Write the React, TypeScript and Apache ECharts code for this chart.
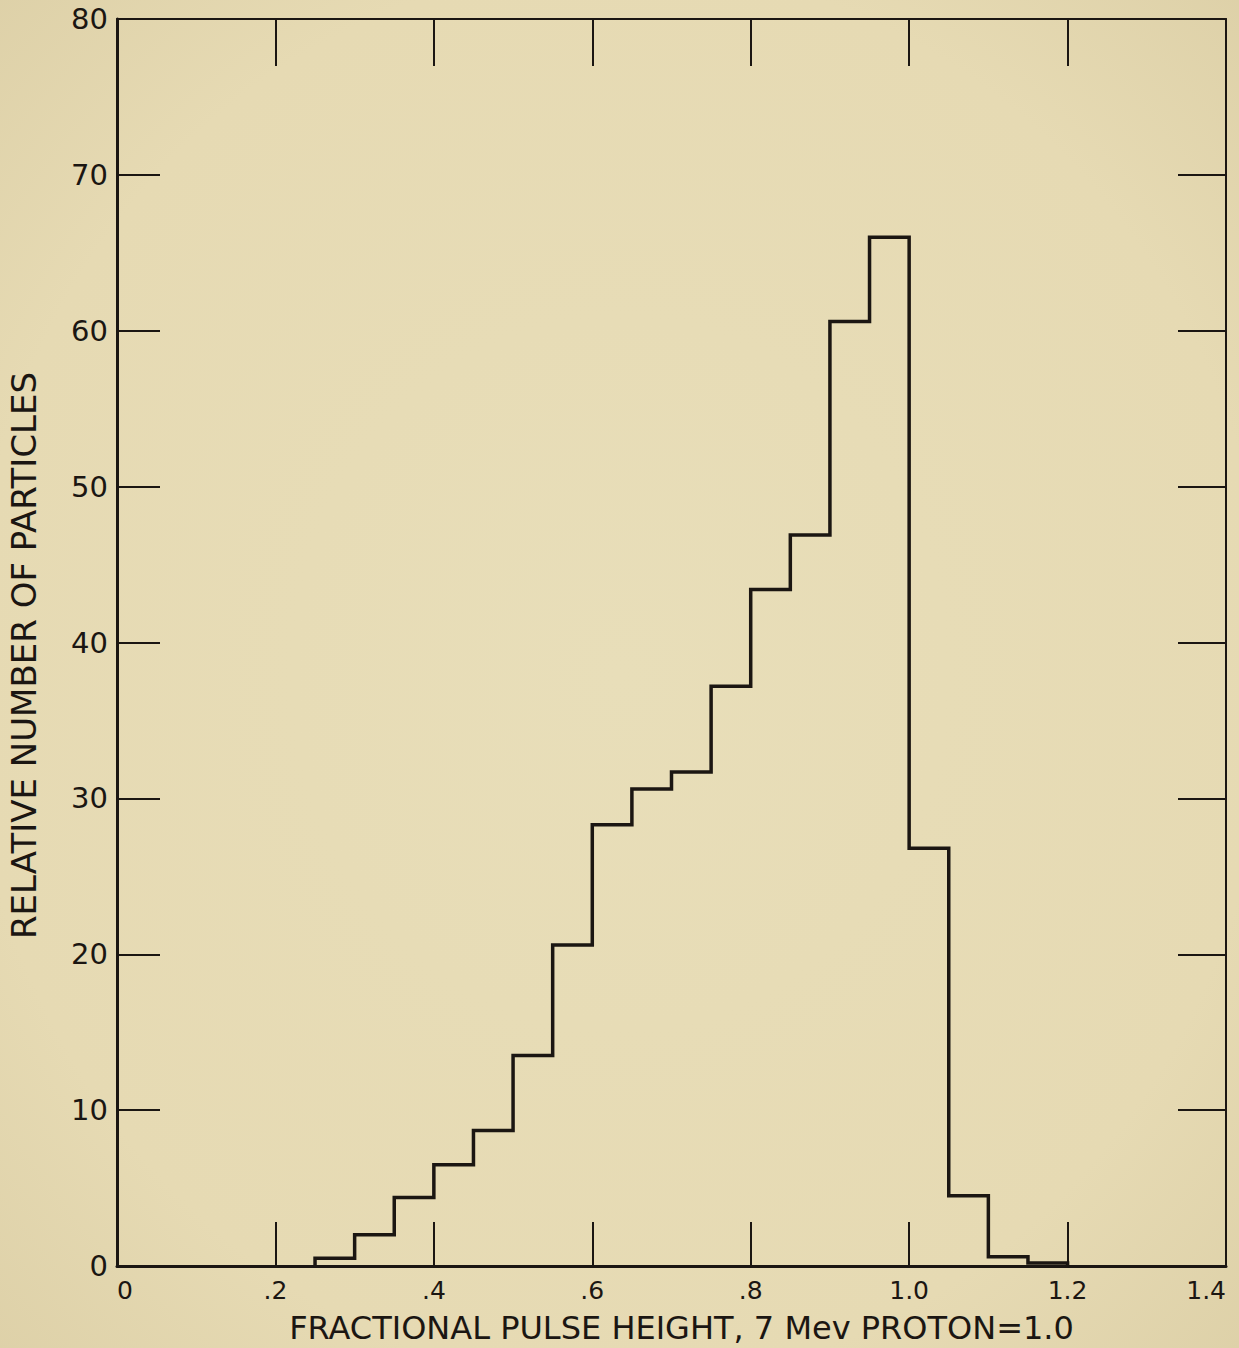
import React, { useEffect, useRef } from "react";
import * as echarts from "echarts";

const binStarts = [0.25, 0.3, 0.35, 0.4, 0.45, 0.5, 0.55, 0.6, 0.65, 0.7, 0.75, 0.8, 0.85, 0.9, 0.95, 1.0, 1.05, 1.1, 1.15];
const binWidth = 0.05;
const counts = [0.5, 2.0, 4.4, 6.5, 8.7, 13.5, 20.6, 28.3, 30.6, 31.7, 37.2, 43.4, 46.9, 60.6, 66.0, 26.8, 4.5, 0.6, 0.2];
const xTitle = "FRACTIONAL PULSE HEIGHT, 7 Mev PROTON=1.0";
const yTitle = "RELATIVE NUMBER OF PARTICLES";

const INK = "#1b1612";
const FONT = "DejaVu Sans";

function xLabel(v: number): string {
  if (v === 0) return "0";
  const s = v.toFixed(1);
  return s.startsWith("0") ? s.slice(1) : s;
}

export default function App() {
  const ref = useRef<HTMLDivElement>(null);
  useEffect(() => {
    if (!ref.current) return;
    const chart = echarts.init(ref.current, undefined, { renderer: "svg" });
    const pts: number[][] = [[binStarts[0], 0]];
    binStarts.forEach((s, i) => {
      const e = Math.round((s + binWidth) * 100) / 100;
      pts.push([s, counts[i]]);
      pts.push([e, counts[i]]);
    });
    const last = Math.round((binStarts[binStarts.length - 1] + binWidth) * 100) / 100;
    pts.push([last, 0]);

    chart.setOption({
      animation: false,
      backgroundColor: {
        type: "radial",
        x: 0.5,
        y: 0.5,
        r: 0.75,
        colorStops: [
          { offset: 0, color: "#e8deb9" },
          { offset: 0.7, color: "#e6dab3" },
          { offset: 1, color: "#dccfa6" },
        ],
      },
      grid: { left: 117, width: 1109, top: 19, height: 1247, outerBoundsMode: "none", containLabel: false },
      xAxis: [
        {
          type: "value",
          position: "bottom",
          min: 0,
          max: 1.4,
          interval: 0.2,
          splitLine: { show: false },
          axisLine: { show: true, onZero: false, lineStyle: { color: INK, width: 3 } },
          axisTick: { show: true, inside: true, length: 44, lineStyle: { color: INK, width: 2 } },
          axisLabel: {
            formatter: xLabel,
            color: INK,
            fontSize: 25,
            fontFamily: FONT,
            margin: 12,
            alignMinLabel: "left",
            alignMaxLabel: "right",
          },
          name: xTitle,
          nameLocation: "middle",
          nameGap: 46,
          nameTextStyle: { color: INK, fontSize: 32, fontFamily: FONT, padding: [0, 0, 0, 20], verticalAlign: "top" },
        },
        {
          type: "value",
          position: "top",
          min: 0,
          max: 1.4,
          interval: 0.2,
          splitLine: { show: false },
          axisLine: { show: true, onZero: false, lineStyle: { color: INK, width: 2 } },
          axisTick: { show: true, inside: true, length: 47, lineStyle: { color: INK, width: 2 } },
          axisLabel: { show: false },
        },
      ],
      yAxis: [
        {
          type: "value",
          position: "left",
          min: 0,
          max: 80,
          interval: 10,
          splitLine: { show: false },
          axisLine: { show: true, onZero: false, lineStyle: { color: INK, width: 3 } },
          axisTick: { show: true, inside: true, length: 43, lineStyle: { color: INK, width: 2 } },
          axisLabel: { color: INK, fontSize: 29, fontFamily: FONT, margin: 9 },
          name: yTitle,
          nameLocation: "middle",
          nameRotate: 90,
          nameGap: 76,
          nameTextStyle: { color: INK, fontSize: 34, fontFamily: FONT, padding: [0, 26, 0, 0] },
        },
        {
          type: "value",
          position: "right",
          min: 0,
          max: 80,
          interval: 10,
          splitLine: { show: false },
          axisLine: { show: true, onZero: false, lineStyle: { color: INK, width: 2 } },
          axisTick: { show: true, inside: true, length: 48, lineStyle: { color: INK, width: 2 } },
          axisLabel: { show: false },
        },
      ],
      series: [
        {
          type: "line",
          xAxisIndex: 0,
          yAxisIndex: 0,
          data: pts,
          showSymbol: false,
          symbol: "none",
          lineStyle: { color: INK, width: 3.5, cap: "square", join: "miter" },
          z: 5,
        },
      ],
    });
    return () => chart.dispose();
  }, []);
  return (
    <div
      ref={ref}
      style={{ position: "absolute", left: 0, top: 0, width: 1239, height: 1348 }}
    />
  );
}
